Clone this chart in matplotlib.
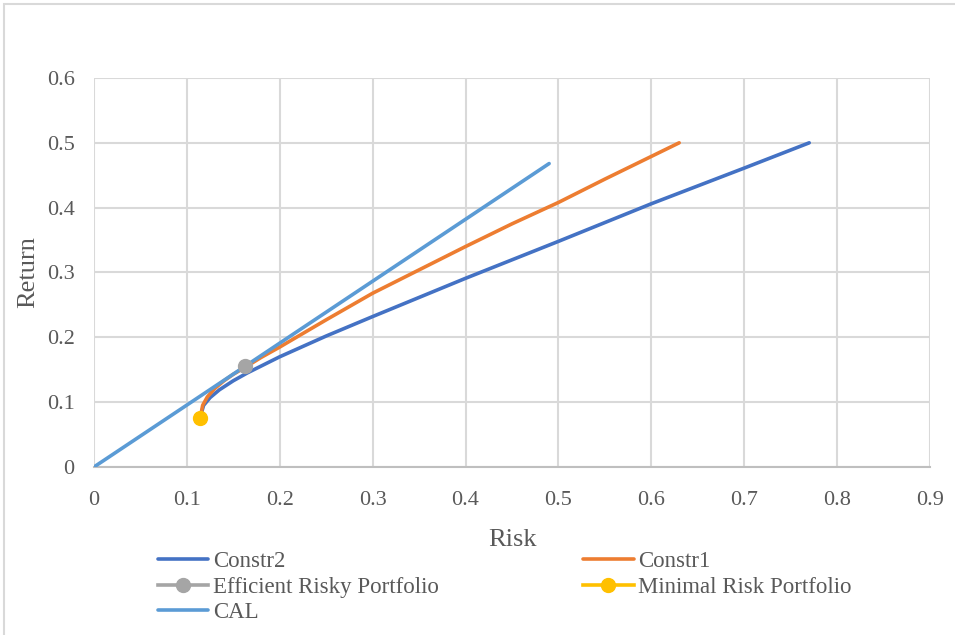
import numpy as np
import matplotlib.pyplot as plt
from matplotlib.patches import Rectangle

plt.rcParams['font.family'] = ['Liberation Serif', 'DejaVu Serif']

# frontier under constraint set 2
constr2_risk = [0.115, 0.118, 0.125, 0.135, 0.15, 0.165, 0.2, 0.25, 0.3, 0.4, 0.5, 0.6, 0.7, 0.77]
constr2_ret = [0.08, 0.095, 0.107, 0.119, 0.133, 0.145, 0.17, 0.202, 0.232, 0.291, 0.348, 0.406, 0.461, 0.5]

# frontier under constraint set 1
constr1_risk = [0.115, 0.117, 0.122, 0.13, 0.14, 0.15, 0.163, 0.18, 0.2, 0.25, 0.3, 0.35, 0.4, 0.45, 0.5, 0.55, 0.6, 0.63]
constr1_ret = [0.08, 0.095, 0.108, 0.121, 0.133, 0.143, 0.154, 0.169, 0.185, 0.227, 0.268, 0.304, 0.340, 0.375, 0.408, 0.444, 0.479, 0.5]

# capital allocation line
cal_risk = [0.0, 0.49]
cal_ret = [0.0, 0.468]

eff_risk, eff_ret = [0.163], [0.155]
minr_risk, minr_ret = [0.114], [0.075]

x_ticks = [0, 0.1, 0.2, 0.3, 0.4, 0.5, 0.6, 0.7, 0.8, 0.9]
y_ticks = [0, 0.1, 0.2, 0.3, 0.4, 0.5, 0.6]
x_labels = ['0', '0.1', '0.2', '0.3', '0.4', '0.5', '0.6', '0.7', '0.8', '0.9']
y_labels = ['0', '0.1', '0.2', '0.3', '0.4', '0.5', '0.6']

txt = '#595959'
grid = '#D9D9D9'

fig = plt.figure(figsize=(9.55, 6.35), dpi=100)
ax = fig.add_axes([0.0984, 0.2646, 0.8754, 0.6126])

h2, = ax.plot(constr2_risk, constr2_ret, color='#4472C4', lw=2.6, solid_capstyle='round', label='Constr2')
h1, = ax.plot(constr1_risk, constr1_ret, color='#ED7D31', lw=2.6, solid_capstyle='round', label='Constr1')
hc, = ax.plot(cal_risk, cal_ret, color='#5B9BD5', lw=2.6, solid_capstyle='round', label='CAL', zorder=3)
he, = ax.plot(eff_risk, eff_ret, color='#A5A5A5', marker='o', ms=10, lw=2.6,
              label='Efficient Risky Portfolio', zorder=4)
hm, = ax.plot(minr_risk, minr_ret, color='#FFC000', marker='o', ms=10, lw=2.6,
              label='Minimal Risk Portfolio', zorder=4)

ax.set_xlim(0, 0.9)
ax.set_ylim(0, 0.6)
ax.set_xticks(x_ticks, x_labels)
ax.set_yticks(y_ticks, y_labels)
ax.grid(True, color=grid, lw=1.5)
ax.set_axisbelow(True)
for s in ['top', 'right', 'left']:
    ax.spines[s].set_visible(False)
ax.spines['bottom'].set_color('#BFBFBF')
ax.spines['bottom'].set_linewidth(1.5)
ax.tick_params(length=0, labelsize=16, colors=txt)
ax.tick_params(axis='x', pad=17)
ax.tick_params(axis='y', pad=14)

ax.set_xlabel('Risk', fontsize=19, color=txt, labelpad=14)
ax.set_ylabel('Return', fontsize=19, color=txt, labelpad=5)

# two columns, filled row by row
leg = fig.legend([h2, he, hc, h1, hm],
                 ['Constr2', 'Efficient Risky Portfolio', 'CAL', 'Constr1', 'Minimal Risk Portfolio'],
                 ncol=2, loc='upper left', bbox_to_anchor=(0.1654, 0.1320),
                 frameon=False, fontsize=16.5, handlelength=2.2, handletextpad=0.2,
                 columnspacing=6.3, labelspacing=0.2, borderaxespad=0, borderpad=0)
for t in leg.get_texts():
    t.set_color(txt)

# outer chart border
fig.patches.append(Rectangle((4 / 955, -0.1), 1.1, 1.1 - 4 / 635, transform=fig.transFigure,
                             fill=False, edgecolor=grid, lw=1.5))

fig.savefig('out.png', dpi=100)
